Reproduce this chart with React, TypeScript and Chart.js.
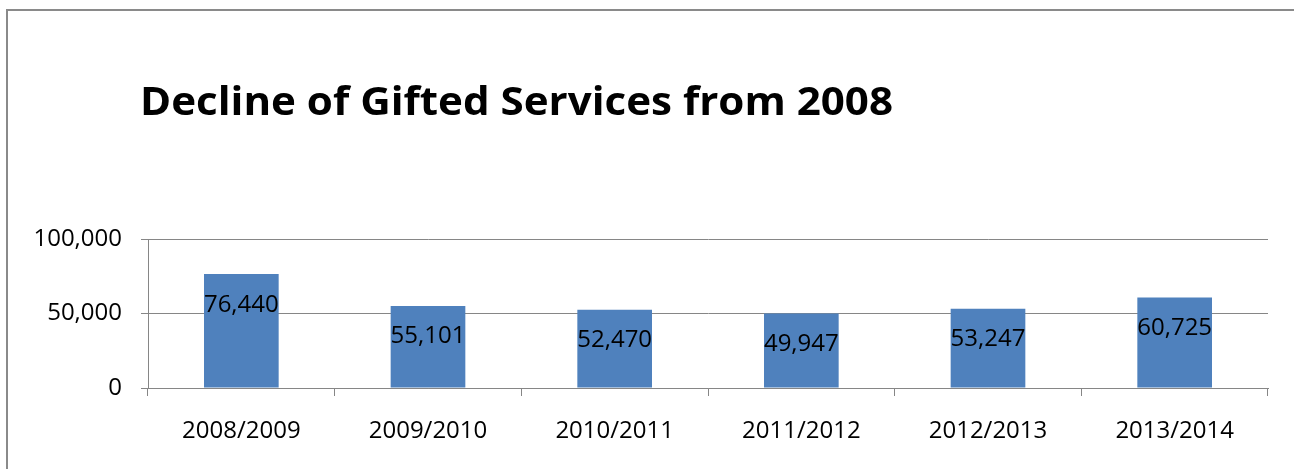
import React, { useEffect, useRef } from "react";
import { Chart, registerables } from "chart.js";

Chart.register(...registerables);

const categories = ["2008/2009", "2009/2010", "2010/2011", "2011/2012", "2012/2013", "2013/2014"];
const values = [76440, 55101, 52470, 49947, 53247, 60725];
const titleText = "Decline of Gifted Services from 2008";
const yMin = 0;
const yMax = 100000;
const yStep = 50000;

const FONT = "'Open Sans', 'Liberation Sans', sans-serif";
const fmt = (v: number) => Number(v).toLocaleString("en-US");

const titlePlugin = {
  id: "customTitle",
  afterDraw(chart: any) {
    const ctx = chart.ctx;
    ctx.save();
    ctx.font = `bold 39px ${FONT}`;
    ctx.fillStyle = "#000";
    ctx.textAlign = "left";
    ctx.textBaseline = "alphabetic";
    const w = ctx.measureText(titleText).width;
    const sx = 753 / w;
    ctx.translate(140, 115);
    ctx.scale(sx, 1);
    ctx.fillText(titleText, 0, 0);
    ctx.restore();
  },
};

const framePlugin = {
  id: "frame",
  beforeDraw(chart: any) {
    const ctx = chart.ctx;
    ctx.save();
    ctx.fillStyle = "#8a8a8a";
    ctx.fillRect(6, 9, 2, chart.height);
    ctx.fillRect(6, 9, chart.width, 2);
    ctx.restore();
  },
};

const labelPlugin = {
  id: "barLabels",
  afterDatasetsDraw(chart: any) {
    const ctx = chart.ctx;
    const meta = chart.getDatasetMeta(0);
    ctx.save();
    ctx.font = `24px ${FONT}`;
    ctx.fillStyle = "#000";
    ctx.textAlign = "center";
    ctx.textBaseline = "alphabetic";
    meta.data.forEach((bar: any, i: number) => {
      ctx.fillText(fmt(values[i]), bar.x, bar.y + 37.5);
    });
    ctx.restore();
  },
};

export default function App() {
  const ref = useRef<HTMLCanvasElement>(null);
  useEffect(() => {
    if (!ref.current) return;
    const chart = new Chart(ref.current, {
      type: "bar",
      data: {
        labels: categories,
        datasets: [
          {
            data: values,
            backgroundColor: "#4F81BD",
            barPercentage: 0.4,
            categoryPercentage: 1,
          },
        ],
      },
      options: {
        animation: false,
        responsive: false,
        layout: { padding: { top: 239, right: 26, left: 0, bottom: 0 } },
        plugins: { legend: { display: false }, tooltip: { enabled: false }, title: { display: false } },
        scales: {
          x: {
            afterFit(scale: any) {
              scale.height = 81;
            },
            grid: {
              display: true,
              drawOnChartArea: false,
              drawTicks: true,
              tickLength: 8,
              color: "#868686",
              offset: true,
            },
            border: { display: true, color: "#868686" },
            ticks: { color: "#000", font: { family: FONT, size: 24 }, padding: 21, maxRotation: 0 },
          },
          y: {
            min: yMin,
            max: yMax,
            afterFit(scale: any) {
              scale.width = 148;
            },
            grid: { color: "#868686", tickLength: 7, drawTicks: true },
            border: { display: true, color: "#868686" },
            ticks: {
              stepSize: yStep,
              color: "#000",
              font: { family: FONT, size: 24 },
              padding: 19,
              callback: (v: any) => fmt(v),
            },
          },
        },
      },
      plugins: [framePlugin, titlePlugin, labelPlugin],
    });
    return () => chart.destroy();
  }, []);
  return (
    <div style={{ position: "fixed", left: 0, top: 0, width: 1294, height: 469, overflow: "hidden", background: "#fff" }}>
      <style>{"html,body{overflow:hidden;margin:0}"}</style>
      <canvas ref={ref} width={1294} height={469} style={{ display: "block" }} />
    </div>
  );
}
